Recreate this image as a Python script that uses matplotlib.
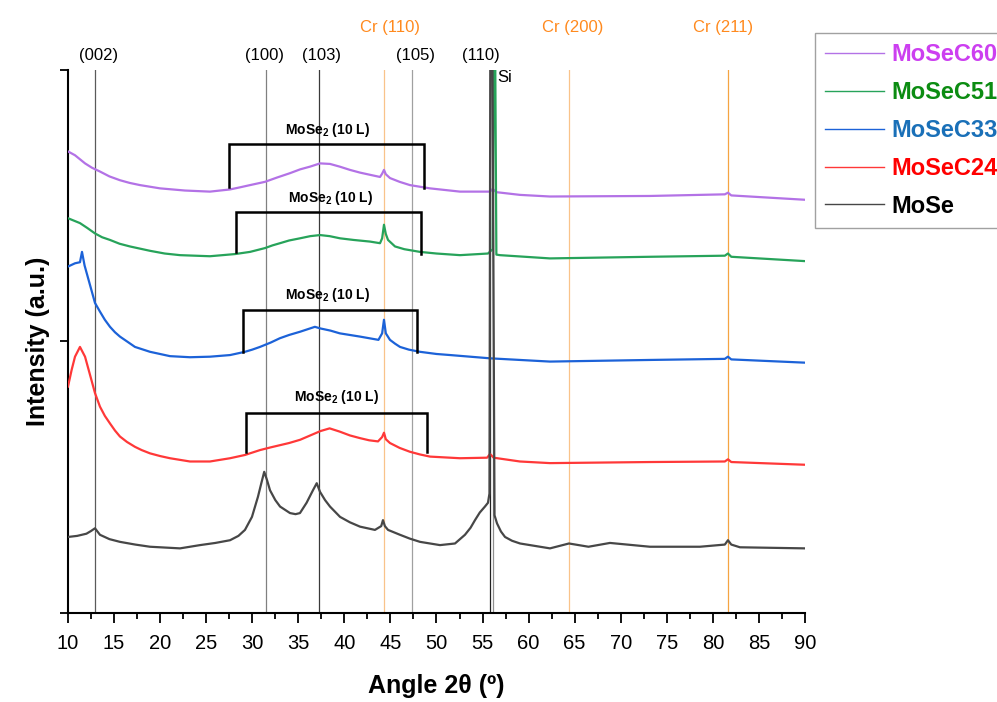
import matplotlib
matplotlib.use("Agg")
import matplotlib.pyplot as plt
from matplotlib.lines import Line2D

plt.rcParams['font.family'] = ['Liberation Sans', 'DejaVu Sans']
plt.rcParams['mathtext.fontset'] = 'custom'
plt.rcParams['mathtext.rm'] = 'Liberation Sans'
plt.rcParams['mathtext.bf'] = 'Liberation Sans:bold'

# --- data (2theta in degrees, intensity in a.u., stacked) ---
mose_x = [10.0, 11.0, 12.0, 12.5, 12.93, 13.47, 14.5, 15.64, 17.3, 18.9, 22.16, 24.33, 26.0, 27.59,
          28.5, 29.21, 29.97, 30.62, 31.0, 31.3, 31.6, 31.93, 32.5, 33.02, 34.1, 34.7, 35.18,
          35.9, 36.59, 37.0, 37.36, 37.9, 38.44, 39.53, 40.6, 41.7, 43.32, 44.0, 44.19, 44.4,
          44.74, 46.04, 47.1, 48.21, 50.38, 52.01, 53.09, 53.7, 54.18, 54.7, 55.26, 55.59, 55.75,
          55.85, 56.05, 56.3, 56.57, 57.0, 57.44, 58.2, 59.07, 62.32, 64.38, 66.5, 68.83, 73.17,
          78.6, 81.3, 81.64, 82.0, 82.94, 90.0]
mose_y = [14.0, 14.2, 14.6, 15.1, 15.6, 14.4, 13.6, 13.1, 12.6, 12.2, 11.9, 12.5, 12.9, 13.4,
          14.2, 15.3, 17.7, 21.4, 24.0, 26.0, 24.5, 22.6, 20.8, 19.6, 18.4, 18.2, 18.4,
          20.3, 22.6, 23.9, 22.3, 20.8, 19.6, 17.7, 16.7, 15.9, 15.3, 16.0, 17.1, 16.0,
          15.3, 14.4, 13.7, 13.1, 12.5, 12.8, 14.4, 15.7, 17.1, 18.5, 19.6, 20.3, 22.0,
          110.0, 110.0, 18.0, 16.5, 15.0, 14.0, 13.3, 12.8, 11.9, 12.8, 12.2, 12.9, 12.2,
          12.2, 12.6, 13.4, 12.6, 12.1, 11.9]

c24_x = [10.0, 10.4, 10.76, 11.3, 11.85, 12.4, 12.93, 13.47, 14.0, 14.56, 15.1, 15.64, 16.4, 17.27,
         18.0, 18.9, 20.0, 21.07, 23.24, 25.41, 27.59, 29.21, 30.84, 32.0, 33.0, 34.0, 35.2,
         36.3, 37.4, 38.4, 39.5, 40.6, 41.7, 42.7, 43.65, 44.1, 44.3, 44.5, 44.95, 46.0, 47.1,
         48.2, 49.3, 52.55, 55.5, 55.81, 56.2, 59.06, 62.32, 73.17, 81.3, 81.64, 82.0, 90.0]
c24_y = [41.7, 44.8, 47.2, 49.0, 47.2, 43.8, 40.5, 38.0, 36.3, 34.9, 33.6, 32.5, 31.5, 30.6,
         30.0, 29.4, 28.9, 28.5, 27.9, 27.9, 28.5, 29.1, 30.0, 30.5, 30.9, 31.3, 31.9,
         32.7, 33.5, 34.0, 33.4, 32.7, 32.2, 31.8, 31.6, 32.4, 33.2, 32.0, 31.3, 30.4, 29.7,
         29.2, 28.8, 28.5, 28.6, 29.3, 28.6, 27.9, 27.6, 27.8, 27.9, 28.3, 27.8, 27.3]

c33_x = [10.0, 10.76, 11.3, 11.52, 11.8, 12.39, 12.93, 13.47, 14.0, 14.56, 15.1, 15.64, 16.5, 17.27,
         18.9, 21.07, 23.24, 25.41, 27.59, 29.21, 30.0, 30.84, 32.0, 33.0, 34.0, 35.2, 36.8,
         37.4, 38.5, 39.5, 40.6, 41.7, 42.7, 43.7, 44.1, 44.3, 44.5, 44.95, 45.5, 46.04, 47.0,
         48.2, 50.0, 51.5, 55.81, 62.32, 73.17, 81.3, 81.64, 82.0, 90.0]
c33_y = [63.8, 64.4, 64.6, 66.5, 64.0, 60.4, 57.1, 55.5, 54.0, 52.7, 51.7, 50.9, 49.9, 49.0,
         48.1, 47.3, 47.1, 47.2, 47.5, 48.1, 48.5, 49.0, 49.8, 50.6, 51.2, 51.8, 52.7,
         52.4, 52.0, 51.5, 51.2, 50.9, 50.6, 50.3, 51.5, 54.0, 51.5, 50.3, 49.6, 49.0, 48.5,
         48.1, 47.7, 47.5, 46.9, 46.3, 46.6, 46.8, 47.2, 46.7, 46.1]

c51_x = [10.0, 11.3, 12.1, 12.93, 13.7, 14.56, 15.6, 16.73, 18.9, 20.5, 22.16, 25.41, 28.13, 29.76,
         31.38, 32.2, 33.01, 34.0, 35.18, 36.3, 37.36, 38.4, 39.53, 41.0, 42.78, 43.87, 44.1,
         44.3, 44.5, 44.74, 45.5, 46.5, 48.21, 50.0, 52.55, 55.59, 56.1, 56.25, 56.35, 56.5,
         56.89, 62.32, 73.17, 81.3, 81.64, 82.0, 90.0]
c51_y = [72.7, 71.8, 70.9, 69.9, 69.2, 68.7, 68.0, 67.5, 66.7, 66.2, 65.9, 65.7, 66.1, 66.5,
         67.2, 67.7, 68.1, 68.6, 69.0, 69.4, 69.6, 69.4, 69.0, 68.7, 68.4, 68.1, 69.0,
         71.5, 69.8, 68.7, 67.5, 67.0, 66.5, 66.2, 65.9, 66.2, 67.0, 110.0, 110.0, 66.0,
         65.9, 65.3, 65.6, 65.8, 66.2, 65.6, 64.8]

c60_x = [10.0, 10.76, 11.85, 12.6, 13.47, 14.5, 15.64, 16.7, 17.82, 19.99, 22.7, 25.41, 27.59, 28.7,
         29.76, 31.38, 32.7, 34.1, 35.2, 36.27, 37.36, 38.44, 39.5, 40.61, 41.7, 42.78, 43.87,
         44.1, 44.3, 44.5, 44.95, 46.0, 47.12, 48.2, 49.29, 52.55, 55.81, 56.1, 56.5, 59.06,
         62.32, 73.17, 81.3, 81.64, 82.0, 90.0]
c60_y = [85.0, 84.3, 82.8, 82.0, 81.3, 80.4, 79.7, 79.2, 78.8, 78.2, 77.8, 77.6, 78.0, 78.4,
         78.8, 79.4, 80.2, 81.0, 81.7, 82.2, 82.8, 82.7, 82.2, 81.6, 81.1, 80.7, 80.3,
         80.9, 81.6, 80.8, 80.1, 79.4, 78.8, 78.5, 78.2, 77.6, 77.6, 78.1, 77.5, 77.0,
         76.7, 76.8, 77.1, 77.4, 76.9, 76.1]

series_names = ['MoSeC60', 'MoSeC51', 'MoSeC33', 'MoSeC24', 'MoSe']
series_x = [c60_x, c51_x, c33_x, c24_x, mose_x]
series_y = [c60_y, c51_y, c33_y, c24_y, mose_y]
line_colors = ['#b372e6', '#27a35a', '#1c62d8', '#ff3838', '#474747']
text_colors = ['#cc3ff0', '#0c8c12', '#1a70b8', '#ff0000', '#000000']

# reference lines: position, colour
ref_pos = [12.93, 31.44, 37.26, 47.38, 55.81, 56.1, 44.27, 64.37, 81.6]
ref_colors = ['#5a5a5a', '#808080', '#3a3a3a', '#a0a0a0', '#222222', '#909090',
              '#f9c38a', '#f9c38a', '#f5a442']
hkl_labels = ['(002)', '(100)', '(103)', '(105)', '(110)']
hkl_label_x = [13.37, 31.28, 37.57, 47.67, 54.83]
cr_labels = ['Cr (110)', 'Cr (200)', 'Cr (211)']
cr_label_x = [44.95, 64.82, 81.1]

# MoSe2 (10 L) brackets: left, right, top, left-leg bottom, right-leg bottom
br_left = [27.51, 28.2, 29.03, 29.29]
br_right = [48.68, 48.29, 47.92, 48.94]
br_top = [86.4, 73.8, 55.8, 36.9]
br_lbot = [78.5, 66.5, 48.1, 29.7]
br_rbot = [78.3, 66.2, 48.1, 29.7]
br_text_x = [38.22, 38.5, 38.18, 39.17]
br_text_y = [89.0, 76.4, 58.6, 39.8]

fig = plt.figure(figsize=(9.97, 7.02), dpi=100)
ax = fig.add_axes([0.0682, 0.1268, 0.7392, 0.7735])

for xp, col in zip(ref_pos, ref_colors):
    ax.axvline(xp, color=col, lw=0.9, zorder=1)

for xs, ys, col in zip(series_x, series_y, line_colors):
    ax.plot(xs, ys, color=col, lw=1.6, zorder=3)

for l, r, t, lb, rb, tx, ty in zip(br_left, br_right, br_top, br_lbot, br_rbot, br_text_x, br_text_y):
    ax.plot([l, l, r, r], [lb, t, t, rb], color='black', lw=1.8, zorder=4,
            solid_joinstyle='miter')
    ax.text(tx, ty, r'MoSe$_{\mathbf{2}}$ (10 L)', fontsize=10, fontweight='bold',
            ha='center', va='center', zorder=5)

for lab, xl in zip(hkl_labels, hkl_label_x):
    ax.text(xl, 102.6, lab, fontsize=12, ha='center', va='center', clip_on=False)
for lab, xl in zip(cr_labels, cr_label_x):
    ax.text(xl, 107.9, lab, fontsize=12, ha='center', va='center', color='#ff8a1e',
            clip_on=False)
ax.text(56.6, 98.7, 'Si', fontsize=12, ha='left', va='center')

ax.set_xlim(10, 90)
ax.set_ylim(0, 100)
ax.set_xticks(range(10, 91, 5))
ax.set_xticks([x + 2.5 for x in range(10, 90, 5)], minor=True)
ax.set_yticks([0, 50, 100])
ax.set_yticklabels([])
ax.spines['top'].set_visible(False)
ax.spines['right'].set_visible(False)
for s in ['left', 'bottom']:
    ax.spines[s].set_linewidth(1.5)
ax.tick_params(axis='x', which='major', direction='out', length=7, width=1.3,
               labelsize=14.5, pad=8)
ax.tick_params(axis='x', which='minor', direction='out', length=4, width=1.3)
ax.tick_params(axis='y', which='major', direction='out', length=6, width=1.3)
ax.set_xlabel('Angle 2θ (º)', fontsize=18, fontweight='bold', labelpad=15)
ax.set_ylabel('Intensity (a.u.)', fontsize=18, fontweight='bold', labelpad=3.5)

handles = [Line2D([0], [0], color=c, lw=1.0) for c in line_colors]
leg = fig.legend(handles, series_names, loc='upper left',
                 bbox_to_anchor=(815 / 997, 1 - 33 / 702), frameon=True, fancybox=False,
                 edgecolor='#8a8a8a', fontsize=17, handlelength=2.5, handletextpad=0.3,
                 labelspacing=0.63, borderpad=0.43, borderaxespad=0.0)
leg.get_frame().set_linewidth(1.0)
for txt, col in zip(leg.get_texts(), text_colors):
    txt.set_color(col)
    txt.set_fontweight('bold')

fig.savefig('out.png', dpi=100)
